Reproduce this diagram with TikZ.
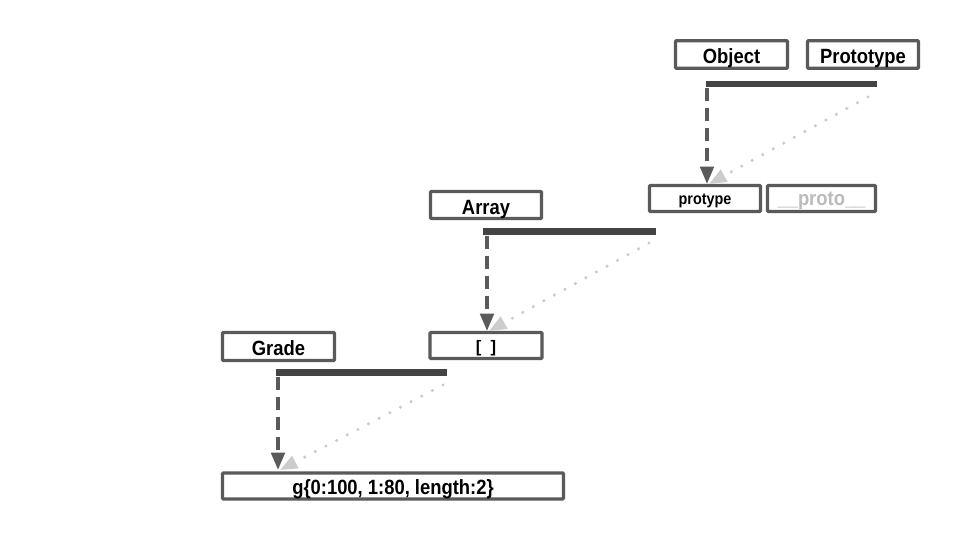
\documentclass[tikz,border=0pt]{standalone}
\usepackage{fontspec}
\setmainfont{Liberation Sans}
\usetikzlibrary{arrows.meta}
\definecolor{boxc}{HTML}{5A5A5A}
\definecolor{barc}{HTML}{444444}
\definecolor{dotc}{HTML}{CCCCCC}
\definecolor{protoc}{HTML}{BBBBBB}
\newcommand{\tallt}[1]{\scalebox{1}[1.12]{#1}}
\tikzset{
  lbl/.style={draw=boxc, line width=2.5pt, fill=white, inner sep=0pt, rounded corners=0.8pt,
    font=\bfseries\fontsize{13.8}{15}\selectfont, text=black, text height=13.5pt, text depth=0pt},
  smalllbl/.style={lbl, font=\bfseries\fontsize{10.8}{12}\selectfont, text height=8.25pt},
  bar/.style={draw=barc, line width=5.2pt},
  dasharrow/.style={draw=boxc, line width=2.8pt, dash pattern=on 10pt off 5pt,
    -{Triangle[length=13pt,width=10pt,fill=boxc]}},
  dotarrow/.style={draw=dotc, line width=2.6pt, line cap=round, dash pattern=on 0pt off 9pt,
    -{Triangle[length=13pt,width=10pt,fill=dotc,line cap=butt]}},
}
\begin{document}
\begin{tikzpicture}[x=0.75pt,y=-0.75pt]
\useasboundingbox[fill=white] (0,0) rectangle (960,540);
% boxes
\node[lbl, minimum width=112*0.75pt, minimum height=27.5*0.75pt] (obj) at (731.5,54.5) {\tallt{Object}};
\node[lbl, minimum width=111*0.75pt, minimum height=27.5*0.75pt] (prot) at (863,54.5) {\tallt{Prototype}};
\node[smalllbl, minimum width=111*0.75pt, minimum height=26*0.75pt] (pty) at (705,198.5) {\tallt{protype}};
\node[lbl, minimum width=108*0.75pt, minimum height=26*0.75pt, text=protoc, text height=9.75pt] (pp) at (821.5,198.5) {\tallt{\_\_proto\_\_}};
\node[lbl, minimum width=111*0.75pt, minimum height=27*0.75pt] (arr) at (486,205) {\tallt{Array}};
\node[lbl, minimum width=112*0.75pt, minimum height=26*0.75pt, font=\bfseries\fontsize{12.5}{14}\selectfont, text height=10.2pt] (emp) at (486,345.5) {[\hspace{0.55em}]};
\node[lbl, minimum width=112*0.75pt, minimum height=28*0.75pt] (grd) at (278.5,346.5) {\tallt{Grade}};
\node[lbl, minimum width=341*0.75pt, minimum height=26*0.75pt, text height=12.75pt] (g) at (393,486) {\tallt{g\{0:100, 1:80, length:2\}}};
% bars
\coordinate (b1s) at (706,84); \coordinate (b1e) at (877,84);
\coordinate (b2s) at (483,231.5); \coordinate (b2e) at (656,231.5);
\coordinate (b3s) at (276,372.5); \coordinate (b3e) at (447,372.5);
\draw[bar] (b1s) -- (b1e);
\draw[bar] (b2s) -- (b2e);
\draw[bar] (b3s) -- (b3e);
% dashed arrows
\coordinate (d1) at (707,88); \coordinate (t1) at (707,184);
\coordinate (d2) at (487,235.5); \coordinate (t2) at (487,331);
\coordinate (d3) at (278,376.5); \coordinate (t3) at (278,470);
\draw[dasharrow] (d1) -- (t1);
\draw[dasharrow] (d2) -- (t2);
\draw[dasharrow] (d3) -- (t3);
% dotted arrows
\coordinate (s1) at (868,97); \coordinate (e1) at (709,184);
\coordinate (s2) at (649,243); \coordinate (e2) at (489,331);
\coordinate (s3) at (443,385); \coordinate (e3) at (280,470);
\draw[dotarrow] (s1) -- (e1);
\draw[dotarrow] (s2) -- (e2);
\draw[dotarrow] (s3) -- (e3);
\end{tikzpicture}
\end{document}
